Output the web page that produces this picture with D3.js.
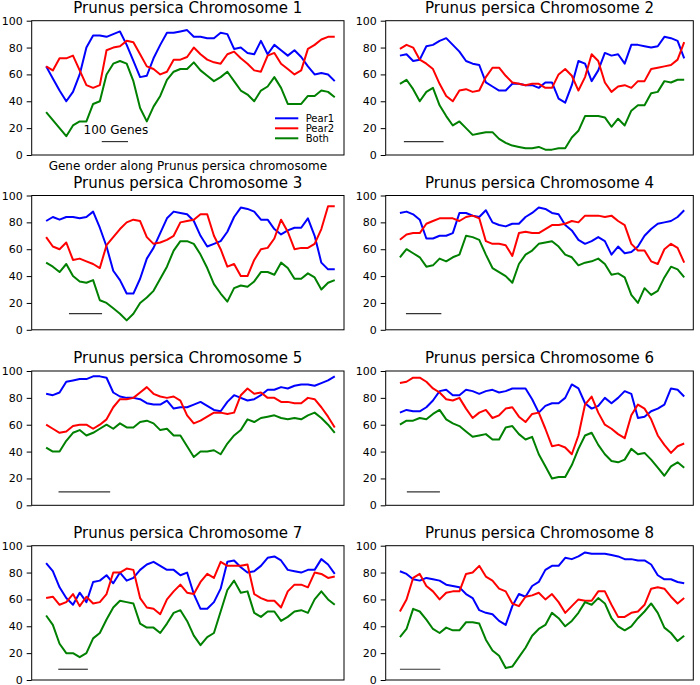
<!DOCTYPE html>
<html>
<head>
<meta charset="utf-8">
<script src="https://cdn.jsdelivr.net/npm/d3@7"></script>
<style>
  html, body { margin: 0; padding: 0; background: #fff; }
  text { font-family: "DejaVu Sans", sans-serif; }
</style>
</head>
<body>
<svg id="chart" width="700" height="685"></svg>
<script>
// ---------------- DATA ----------------
const chromosomes = ["Prunus persica Chromosome 1","Prunus persica Chromosome 2","Prunus persica Chromosome 3","Prunus persica Chromosome 4",
                     "Prunus persica Chromosome 5","Prunus persica Chromosome 6","Prunus persica Chromosome 7","Prunus persica Chromosome 8"];
const seriesNames = ["Pear1", "Pear2", "Both"];
const geneCounts = [1100, 717, 872, 803, 559, 860, 975, 704];
const yTicks = [0, 20, 40, 60, 80, 100];
const scaleBarGenes = 100;
const scaleBarStart = [212, 10, 69, 17, 24, 21, 41, 0];
const scaleBarLevel = [10, 10, 12, 12, 10, 10, 8, 8];

const pear1 = [
 [66,57,48,40,47,60,80,89,89,88,90,92,82,70,58,59,72,82,91,91,92,93,88,88,87,87,91,90,79,80,76,75,85,75,82,78,74,78,73,66,60,61,60,55],
 [74,75,70,71,81,82,85,87,82,77,70,68,67,54,51,48,48,53,53,52,52,50,54,54,42,39,52,70,68,55,63,76,74,75,68,82,82,81,80,81,88,87,85,72],
 [81,84,82,84,84,83,84,88,76,62,44,37,27,27,38,53,61,72,83,88,87,86,81,70,62,64,66,73,84,91,90,88,82,82,75,71,74,76,76,83,70,50,45,45],
 [87,88,86,82,68,68,70,70,72,87,87,85,84,89,80,78,77,79,79,84,87,91,90,87,86,78,74,67,64,66,69,66,56,62,57,58,62,70,75,79,80,81,84,89],
 [83,82,84,92,93,94,94,96,96,95,84,81,80,80,79,76,75,75,78,72,73,73,75,77,74,71,70,77,82,80,78,79,82,86,86,88,87,89,90,90,89,91,93,96],
 [69,71,70,70,73,78,85,86,82,82,86,85,83,85,86,84,85,87,87,87,79,69,74,76,76,80,90,87,76,72,74,80,76,80,85,83,65,66,70,72,75,87,86,81],
 [87,81,69,61,56,65,58,73,74,78,72,80,74,76,82,86,88,85,82,82,78,80,64,53,53,58,68,88,89,84,80,81,85,91,92,89,82,81,80,82,82,90,86,79],
 [81,79,75,74,76,75,74,71,70,69,64,61,52,50,49,44,41,55,64,62,70,73,82,85,85,91,90,92,95,94,94,94,93,92,90,90,89,89,86,78,75,75,73,72]
];
const pear2 = [
 [66,63,72,72,74,63,52,50,52,78,80,81,85,84,75,66,64,60,62,71,71,73,80,75,71,69,68,75,77,72,68,63,62,74,76,68,64,60,63,79,82,86,88,88],
 [79,82,80,71,68,64,53,44,40,48,49,47,48,58,65,65,59,54,53,52,53,53,50,50,60,64,59,48,58,75,70,54,47,51,52,50,55,55,64,65,66,67,71,84],
 [69,62,60,65,52,53,51,49,46,63,69,75,80,82,81,69,64,65,67,70,80,81,82,86,86,70,60,47,49,40,40,52,60,61,68,82,73,60,61,61,64,75,92,92],
 [67,71,72,72,79,81,83,83,83,81,84,85,83,66,64,64,63,55,72,73,72,72,75,78,78,79,81,80,85,85,85,84,85,81,78,64,59,59,51,49,60,64,61,50],
 [60,57,54,55,59,60,60,57,60,64,73,79,79,80,84,88,83,81,80,81,78,67,61,63,66,69,69,68,69,82,87,83,84,80,80,77,77,76,76,80,79,73,66,58],
 [91,92,95,95,92,87,84,79,78,80,72,65,69,71,65,67,72,73,66,62,68,69,57,44,45,43,38,52,75,81,69,60,57,53,50,67,75,72,64,52,45,39,44,46],
 [61,62,56,58,64,55,62,57,58,64,80,80,83,82,61,54,53,49,60,66,71,65,64,73,79,76,88,85,85,85,86,64,61,59,59,54,66,71,71,69,80,79,76,77],
 [51,60,76,79,70,66,60,65,66,66,79,80,85,77,74,68,66,57,55,62,63,65,60,64,58,50,55,60,59,59,66,66,56,47,47,50,51,56,68,69,68,62,57,61]
];
const both = [
 [32,26,20,14,22,25,25,38,40,60,68,70,68,55,35,25,36,44,56,62,64,64,69,63,59,55,58,62,55,48,45,40,48,51,58,50,38,38,38,44,44,48,47,43],
 [53,56,49,40,47,50,37,29,22,25,20,15,16,17,17,12,9,7,6,5,5,6,4,4,5,5,13,18,29,29,29,28,21,27,22,33,37,37,46,47,55,54,56,56],
 [50,47,43,49,40,36,35,37,22,20,16,12,7,12,20,24,29,38,47,59,66,66,64,56,46,34,27,21,31,33,32,36,43,43,41,50,46,38,38,42,39,30,35,37],
 [54,60,57,54,47,48,53,51,54,56,70,69,67,56,46,43,40,35,49,56,59,64,65,66,62,56,54,48,50,51,53,49,41,42,39,26,20,31,26,29,39,47,45,39],
 [43,40,40,48,54,56,52,54,57,60,57,61,58,58,62,63,61,56,57,52,52,44,36,40,40,41,38,46,52,56,64,62,65,66,67,65,64,65,64,67,69,65,60,54],
 [60,63,63,65,64,68,71,64,61,59,55,51,52,53,49,49,58,59,53,49,51,38,29,20,21,21,30,42,52,54,45,38,33,32,34,42,38,39,34,28,22,29,32,28],
 [48,41,27,20,20,17,20,31,35,45,54,59,58,57,42,39,39,35,42,50,52,44,33,26,32,35,51,67,74,65,66,50,47,51,51,44,47,51,52,50,60,66,60,56],
 [32,38,53,51,45,38,35,39,37,37,43,43,42,30,22,18,9,10,17,24,33,38,41,50,46,40,44,50,58,56,61,57,46,40,37,40,46,51,57,50,39,35,29,33]
];
const seriesColors = ["#0000ff", "#ff0000", "#008000"];

// ---------------- LAYOUT ----------------
const svg = d3.select("#chart");
svg.append("rect").attr("width", 700).attr("height", 685).attr("fill", "#fff");

const colLeft = [31.7, 385.7];
const colRight = [344, 693.3];
const rowTop = [20.7, 195.5, 371, 545.7];
const panelH = 134.3;

chromosomes.forEach((title, p) => {
  const col = p % 2, row = Math.floor(p / 2);
  const x0 = colLeft[col], x1 = colRight[col];
  const y0 = rowTop[row], y1 = y0 + panelH;
  const N = geneCounts[p];

  const x = d3.scaleLinear().domain([-0.05 * N, 1.032 * N]).range([x0, x1]);
  const y = d3.scaleLinear().domain([0, 100]).range([y1, y0]);

  const g = svg.append("g");

  // frame
  g.append("rect")
    .attr("x", x0).attr("y", y0).attr("width", x1 - x0).attr("height", y1 - y0)
    .attr("fill", "none").attr("stroke", "#000").attr("stroke-width", 1);

  // y axis
  const ax = g.append("g").attr("transform", `translate(${x0},0)`)
    .call(d3.axisLeft(y).tickValues(yTicks).tickSize(5).tickPadding(4).tickFormat(d3.format("d")));
  ax.select(".domain").remove();
  ax.selectAll(".tick line").attr("stroke", "#000").attr("stroke-width", 1);
  ax.selectAll(".tick text").attr("font-size", 11).attr("fill", "#000")
    .attr("font-family", "DejaVu Sans, sans-serif");

  // title
  g.append("text").attr("x", (x0 + x1) / 2).attr("y", y0 - 8)
    .attr("text-anchor", "middle").attr("font-size", 15).attr("fill", "#000").text(title);

  // lines
  const allSeries = [pear1[p], pear2[p], both[p]];
  allSeries.forEach((vals, s) => {
    const n = vals.length;
    const line = d3.line()
      .x((d, i) => x(i * N / (n - 1)))
      .y(d => y(d));
    g.append("path").datum(vals)
      .attr("d", line).attr("fill", "none")
      .attr("stroke", seriesColors[s]).attr("stroke-width", 2)
      .attr("stroke-linejoin", "round");
  });

  // scale bar
  const sb0 = scaleBarStart[p], sb1 = scaleBarStart[p] + scaleBarGenes;
  g.append("line")
    .attr("x1", x(sb0)).attr("x2", x(sb1))
    .attr("y1", y(scaleBarLevel[p])).attr("y2", y(scaleBarLevel[p]))
    .attr("stroke", "#333").attr("stroke-width", 1.2);

  if (p === 0) {
    g.append("text").attr("x", (x(sb0) + x(sb1)) / 2 + 1).attr("y", y(scaleBarLevel[p]) - 7.5)
      .attr("text-anchor", "middle").attr("font-size", 12).attr("fill", "#000")
      .text(scaleBarGenes + " Genes");
    g.append("text").attr("x", (x0 + x1) / 2).attr("y", y1 + 14.5)
      .attr("text-anchor", "middle").attr("font-size", 12).attr("fill", "#000")
      .text("Gene order along Prunus persica chromosome");
    // legend
    seriesNames.forEach((name, s) => {
      const ly = y1 - 36.7 + s * 10;
      g.append("line").attr("x1", x1 - 69).attr("x2", x1 - 45.7)
        .attr("y1", ly).attr("y2", ly)
        .attr("stroke", seriesColors[s]).attr("stroke-width", 2);
      g.append("text").attr("x", x1 - 38.3).attr("y", ly + 3.6)
        .attr("font-size", 10).attr("fill", "#000").text(name);
    });
  }
});
</script>
</body>
</html>
